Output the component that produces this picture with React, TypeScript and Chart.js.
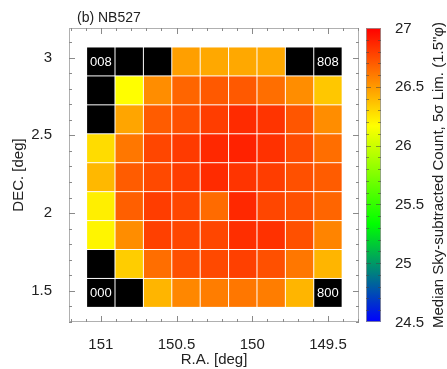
import React, { useEffect, useRef } from "react";
import { Chart, registerables } from "chart.js";

Chart.register(...registerables);

// ---------- data ----------
// cell centres: R.A. (left -> right) and DEC. (top -> bottom)
const RA_CENTERS = [151, 150.8125, 150.625, 150.4375, 150.25, 150.0625, 149.875, 149.6875, 149.5];
const DEC_CENTERS = [2.975, 2.789, 2.603, 2.417, 2.231, 2.045, 1.859, 1.673, 1.487];

// median 5-sigma limiting magnitude per cell (null = no data, drawn black)
const ROW_0 = [null, null, null, 26.48, 26.45, 26.45, 26.45, null, null];
const ROW_1 = [null, 26.17, 26.54, 26.67, 26.71, 26.71, 26.64, 26.54, 26.35];
const ROW_2 = [null, 26.46, 26.7, 26.74, 26.8, 26.86, 26.83, 26.72, 26.54];
const ROW_3 = [26.28, 26.61, 26.77, 26.81, 26.87, 26.89, 26.84, 26.75, 26.64];
const ROW_4 = [26.4, 26.7, 26.76, 26.8, 26.86, 26.83, 26.8, 26.74, 26.7];
const ROW_5 = [26.22, 26.69, 26.8, 26.77, 26.65, 26.87, 26.77, 26.74, 26.67];
const ROW_6 = [26.2, 26.54, 26.79, 26.77, 26.77, 26.85, 26.84, 26.74, 26.57];
const ROW_7 = [null, 26.33, 26.64, 26.74, 26.76, 26.79, 26.74, 26.61, 26.41];
const ROW_8 = [null, null, 26.41, 26.56, 26.59, 26.61, 26.59, 26.41, null];
const ROWS: (number | null)[][] = [ROW_0, ROW_1, ROW_2, ROW_3, ROW_4, ROW_5, ROW_6, ROW_7, ROW_8];

// corner labels: [row, col, text]
const CELL_LABELS: [number, number, string][] = [
  [0, 0, "008"],
  [0, 8, "808"],
  [8, 0, "000"],
  [8, 8, "800"],
];

const RA_TICKS = [151, 150.5, 150, 149.5];
const DEC_TICKS = [3, 2.5, 2, 1.5];
const CB_TICKS = [27, 26.5, 26, 25.5, 25, 24.5];
const CB_MIN = 24.5;
const CB_MAX = 27;

const PANEL_TITLE = "(b) NB527";
const X_TITLE = "R.A. [deg]";
const Y_TITLE = "DEC. [deg]";
const CB_TITLE = "Median Sky-subtracted Count, 5\u03c3 Lim. (1.5\"\u03c6)";

const FONT = "'Liberation Sans', Arial, Helvetica, sans-serif";

function cmap(v: number): string {
  const t = Math.max(0, Math.min(1, (v - CB_MIN) / (CB_MAX - CB_MIN)));
  let r = 0, g = 0, b = 0;
  if (t < 1 / 3) {
    const s = t * 3;
    r = 0; g = 255 * s; b = 255 * (1 - s);
  } else if (t < 2 / 3) {
    const s = (t - 1 / 3) * 3;
    r = 255 * s; g = 255; b = 0;
  } else {
    const s = (t - 2 / 3) * 3;
    r = 255; g = 255 * (1 - s); b = 0;
  }
  return `rgb(${Math.round(r)},${Math.round(g)},${Math.round(b)})`;
}

const heatmapPlugin = {
  id: "heatmap",
  beforeDatasetsDraw(chart: any) {
    const { ctx } = chart;
    const xs = chart.scales.x;
    const ys = chart.scales.y;
    const raStep = Math.abs(RA_CENTERS[1] - RA_CENTERS[0]);
    const decStep = Math.abs(DEC_CENTERS[0] - DEC_CENTERS[1]);
    ctx.save();
    const rects: any[][] = [];
    DEC_CENTERS.forEach((dec, r) => {
      rects[r] = [];
      RA_CENTERS.forEach((ra, c) => {
        const xa = xs.getPixelForValue(ra + raStep / 2);
        const xb = xs.getPixelForValue(ra - raStep / 2);
        const ya = ys.getPixelForValue(dec + decStep / 2);
        const yb = ys.getPixelForValue(dec - decStep / 2);
        const left = Math.min(xa, xb);
        const top = Math.min(ya, yb);
        const w = Math.abs(xb - xa);
        const h = Math.abs(yb - ya);
        rects[r][c] = { left, top, w, h };
        const v = ROWS[r][c];
        ctx.fillStyle = v == null ? "#000" : cmap(v);
        ctx.fillRect(left + 0.5, top + 0.5, w - 1, h - 1);
      });
    });
    ctx.fillStyle = "#fff";
    ctx.font = `13px ${FONT}`;
    ctx.textAlign = "center";
    ctx.textBaseline = "middle";
    CELL_LABELS.forEach(([r, c, text]) => {
      const rc = rects[r][c];
      ctx.fillText(text, rc.left + rc.w / 2, rc.top + rc.h / 2 + 0.5);
    });
    ctx.restore();
  },
  afterDraw(chart: any) {
    const { ctx, chartArea } = chart;
    const xs = chart.scales.x;
    const ys = chart.scales.y;
    const cb = chart.scales.cb;
    const { left, right, top, bottom } = chartArea;
    ctx.save();

    // frame
    ctx.strokeStyle = "#b0b0b0";
    ctx.lineWidth = 1;
    ctx.strokeRect(left + 0.5, top + 0.5, right - left - 1, bottom - top - 1);

    // inward ticks
    ctx.strokeStyle = "#8a8a8a";
    ctx.beginPath();
    const xmin = Math.min(xs.min, xs.max), xmax = Math.max(xs.min, xs.max);
    for (let k = Math.ceil(xmin * 10); k <= Math.floor(xmax * 10); k++) {
      const px = Math.round(xs.getPixelForValue(k / 10)) + 0.5;
      const len = k % 5 === 0 ? 6 : 3;
      ctx.moveTo(px, bottom); ctx.lineTo(px, bottom - len);
      ctx.moveTo(px, top); ctx.lineTo(px, top + len);
    }
    for (let k = Math.ceil(ys.min * 10); k <= Math.floor(ys.max * 10); k++) {
      const py = Math.round(ys.getPixelForValue(k / 10)) + 0.5;
      const len = k % 5 === 0 ? 6 : 3;
      ctx.moveTo(left, py); ctx.lineTo(left + len, py);
      ctx.moveTo(right, py); ctx.lineTo(right - len, py);
    }
    ctx.stroke();

    // colour bar
    const cbLeft = 366, cbW = 15;
    const yTop = cb.getPixelForValue(CB_MAX);
    const yBot = cb.getPixelForValue(CB_MIN);
    const grad = ctx.createLinearGradient(0, yBot, 0, yTop);
    for (let i = 0; i <= 30; i++) {
      const t = i / 30;
      grad.addColorStop(t, cmap(CB_MIN + t * (CB_MAX - CB_MIN)));
    }
    ctx.fillStyle = grad;
    ctx.fillRect(cbLeft, yTop, cbW, yBot - yTop);
    ctx.strokeStyle = "rgba(150,150,150,0.8)";
    ctx.strokeRect(cbLeft + 0.5, yTop + 0.5, cbW - 1, yBot - yTop - 1);

    ctx.strokeStyle = "rgba(70,70,70,0.55)";
    ctx.beginPath();
    for (let k = Math.round(CB_MIN * 10) + 1; k < Math.round(CB_MAX * 10); k++) {
      const py = Math.round(cb.getPixelForValue(k / 10)) + 0.5;
      const len = k % 5 === 0 ? 5 : 3;
      ctx.moveTo(cbLeft, py); ctx.lineTo(cbLeft + len, py);
      ctx.moveTo(cbLeft + cbW, py); ctx.lineTo(cbLeft + cbW - len, py);
    }
    ctx.stroke();

    ctx.fillStyle = "#222";
    ctx.font = `15px ${FONT}`;
    ctx.textAlign = "left";
    ctx.textBaseline = "middle";
    CB_TICKS.forEach((v) => {
      ctx.fillText(String(v), 395, cb.getPixelForValue(v) + 0.5);
    });

    // colour bar title (rotated)
    ctx.save();
    ctx.translate(439, (yTop + yBot) / 2);
    ctx.rotate(-Math.PI / 2);
    ctx.textAlign = "center";
    ctx.textBaseline = "middle";
    ctx.fillText(CB_TITLE, 0, 0);
    ctx.restore();

    // panel title
    ctx.font = `14px ${FONT}`;
    ctx.textAlign = "left";
    ctx.textBaseline = "alphabetic";
    ctx.fillText(PANEL_TITLE, 77, 22);

    ctx.restore();
  },
};

export default function App() {
  const ref = useRef<HTMLCanvasElement | null>(null);

  useEffect(() => {
    if (!ref.current) return;
    const points: { x: number; y: number }[] = [];
    DEC_CENTERS.forEach((dec) => RA_CENTERS.forEach((ra) => points.push({ x: ra, y: dec })));

    const chart = new Chart(ref.current, {
      type: "scatter",
      data: {
        datasets: [
          {
            data: points,
            pointRadius: 0,
            pointHoverRadius: 0,
          },
        ],
      },
      options: {
        animation: false,
        responsive: false,
        events: [],
        layout: { padding: { top: 28, right: 88, left: 0, bottom: 0 } },
        plugins: {
          legend: { display: false },
          tooltip: { enabled: false },
        },
        scales: {
          x: {
            type: "linear",
            position: "bottom",
            min: 149.295,
            max: 151.21,
            reverse: true,
            grid: { display: false, drawTicks: false },
            border: { display: false },
            afterBuildTicks: (s: any) => {
              s.ticks = RA_TICKS.map((v) => ({ value: v }));
            },
            afterFit: (s: any) => {
              s.height = 47;
            },
            ticks: {
              padding: 14,
              color: "#222",
              font: { family: FONT, size: 15 },
              callback: (v: any) => String(v),
            },
            title: {
              display: true,
              text: X_TITLE,
              color: "#222",
              font: { family: FONT, size: 15 },
              padding: { top: 0, bottom: 0 },
            },
          },
          y: {
            type: "linear",
            position: "left",
            min: 1.3,
            max: 3.19,
            grid: { display: false, drawTicks: false },
            border: { display: false },
            afterBuildTicks: (s: any) => {
              s.ticks = DEC_TICKS.map((v) => ({ value: v }));
            },
            afterFit: (s: any) => {
              s.width = 69;
            },
            ticks: {
              padding: 17,
              color: "#222",
              font: { family: FONT, size: 15 },
              callback: (v: any) => String(v),
            },
            title: {
              display: true,
              text: Y_TITLE,
              color: "#222",
              font: { family: FONT, size: 15 },
              padding: { top: 10, bottom: 0 },
            },
          },
          cb: {
            type: "linear",
            position: "right",
            display: false,
            min: CB_MIN,
            max: CB_MAX,
          },
        },
      },
      plugins: [heatmapPlugin],
    });
    return () => chart.destroy();
  }, []);

  return (
    <div style={{ position: "absolute", left: 0, top: 0, width: 447, height: 369, background: "#fff" }}>
      <canvas ref={ref} width={447} height={369} style={{ display: "block", width: 447, height: 369 }} />
    </div>
  );
}
